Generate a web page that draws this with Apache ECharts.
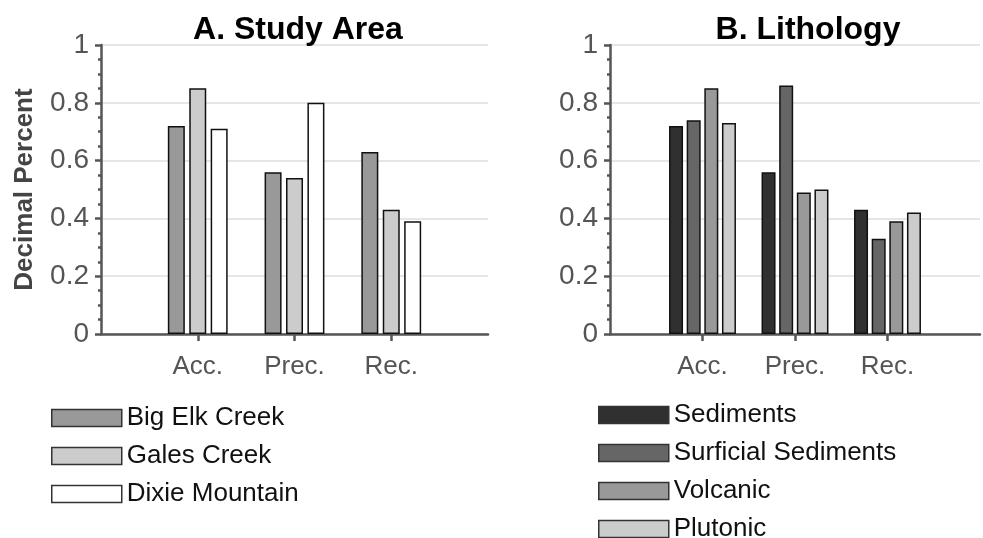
<!DOCTYPE html>
<html>
<head>
<meta charset="utf-8">
<script src="https://cdn.jsdelivr.net/npm/echarts@6/dist/echarts.min.js"></script>
<style>
html,body{margin:0;padding:0;background:#fff;}
#chart{width:983px;height:538px;}
</style>
</head>
<body>
<div id="chart"></div>
<script>
// ---- data ----
const categories = ['Acc.', 'Prec.', 'Rec.'];
const yTicks = [0, 0.2, 0.4, 0.6, 0.8, 1];

const areaNames = ['Big Elk Creek', 'Gales Creek', 'Dixie Mountain'];
const bigElkCreek = [0.72, 0.56, 0.63];
const galesCreek = [0.85, 0.54, 0.43];
const dixieMountain = [0.71, 0.80, 0.39];

const lithNames = ['Sediments', 'Surficial Sediments', 'Volcanic', 'Plutonic'];
const sediments = [0.72, 0.56, 0.43];
const surficialSediments = [0.74, 0.86, 0.33];
const volcanic = [0.85, 0.49, 0.39];
const plutonic = [0.73, 0.50, 0.42];

// ---- styles ----
const FONT = 'Liberation Sans, Arial, Helvetica, sans-serif';
const areaColors = ['#999999', '#cccccc', '#ffffff'];
const lithColors = ['#303030', '#666666', '#999999', '#cccccc'];

// pad the category axis with empty slots at both ends
const axisCats = [''].concat(categories, ['']);
const pad = arr => ['-'].concat(arr, ['-']);

function xAxis(gridIndex) {
  return {
    type: 'category', gridIndex, data: axisCats, boundaryGap: false,
    axisLine: { lineStyle: { color: '#555', width: 2.5 } },
    axisTick: { show: true, interval: (i) => i >= 1 && i <= categories.length, length: 7,
                lineStyle: { color: '#555', width: 2.5 } },
    axisLabel: { interval: 0, margin: 20, color: '#555', fontSize: 26, fontFamily: FONT },
    splitLine: { show: false }
  };
}
function yAxis(gridIndex, withName) {
  return {
    type: 'value', gridIndex, min: yTicks[0], max: yTicks[yTicks.length - 1], interval: 0.2,
    name: withName ? 'Decimal Percent' : '', nameLocation: 'middle', nameGap: 63,
    nameTextStyle: { color: '#444', fontSize: 26, fontWeight: 'bold', fontFamily: FONT },
    axisLine: { show: true, lineStyle: { color: '#555', width: 2.5 } },
    axisTick: { show: true, length: 6, lineStyle: { color: '#555', width: 2.5 } },
    minorTick: { show: true, splitNumber: 4, length: 3, lineStyle: { color: '#555', width: 2.5 } },
    axisLabel: { margin: 12, color: '#555', fontSize: 28, fontFamily: FONT,
                 formatter: v => String(Math.round(v * 10) / 10) },
    splitLine: { show: true, lineStyle: { color: '#e6e6e6', width: 2 } }
  };
}

const areaData = [bigElkCreek, galesCreek, dixieMountain];
const lithData = [sediments, surficialSediments, volcanic, plutonic];

const series = [];
areaNames.forEach((n, i) => series.push({
  type: 'bar', name: n, xAxisIndex: 0, yAxisIndex: 0, data: pad(areaData[i]),
  barWidth: 17, barGap: '26%',
  itemStyle: { color: areaColors[i], borderColor: '#111', borderWidth: 1.5 },
  emphasis: { disabled: true }
}));
lithNames.forEach((n, i) => series.push({
  type: 'bar', name: n, xAxisIndex: 1, yAxisIndex: 1, data: pad(lithData[i]),
  barWidth: 14, barGap: '26%',
  itemStyle: { color: lithColors[i], borderColor: '#111', borderWidth: 1.5 },
  emphasis: { disabled: true }
}));

const legendCommon = {
  orient: 'vertical', padding: 0, icon: 'rect', itemWidth: 70, itemHeight: 17, itemGap: 12,
  selectedMode: false, height: 160,
  textStyle: { color: '#111', fontSize: 26, fontFamily: FONT },
  itemStyle: { borderColor: '#333', borderWidth: 1.5 }
};

const option = {
  backgroundColor: '#fff',
  animation: false,
  title: [
    { text: 'A. Study Area', left: 293, top: 9, textAlign: 'center',
      textStyle: { color: '#000', fontSize: 32, fontWeight: 'bold', fontFamily: FONT } },
    { text: 'B. Lithology', left: 803, top: 9, textAlign: 'center',
      textStyle: { color: '#000', fontSize: 32, fontWeight: 'bold', fontFamily: FONT } }
  ],
  grid: [
    { left: 101, right: 495, top: 45, bottom: 204 },
    { left: 610, right: -12, top: 45, bottom: 204 }
  ],
  xAxis: [xAxis(0), xAxis(1)],
  yAxis: [yAxis(0, true), yAxis(1, false)],
  legend: [
    Object.assign({}, legendCommon, { left: 51, top: 405, data: areaNames }),
    Object.assign({}, legendCommon, { left: 598, top: 402, data: lithNames })
  ],
  series
};

const chart = echarts.init(document.getElementById('chart'), null, { renderer: 'canvas' });
chart.setOption(option);
</script>
</body>
</html>
